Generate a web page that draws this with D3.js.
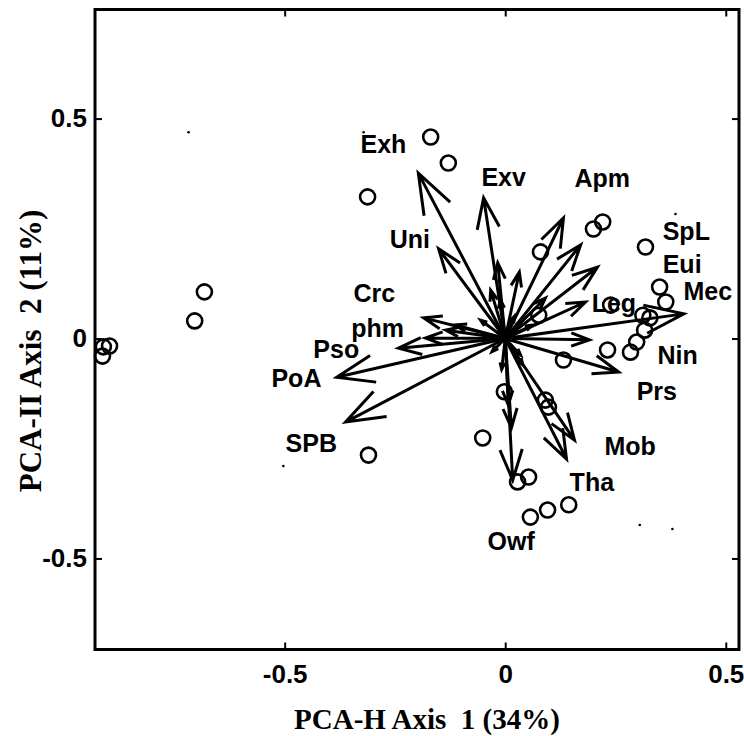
<!DOCTYPE html>
<html>
<head>
<meta charset="utf-8">
<script src="https://cdn.jsdelivr.net/npm/d3@7"></script>
<style>
  html, body { margin: 0; padding: 0; background: #fff; }
  svg { display: block; }
  .tick text { font-family: "Liberation Sans", Arial, sans-serif; font-weight: bold; font-size: 26px; fill: #000; }
  .tick line { stroke: #000; stroke-width: 2; }
  .var-label { font-family: "Liberation Sans", Arial, sans-serif; font-weight: bold; font-size: 25px; fill: #000; }
  .axis-title { font-family: "Liberation Serif", "Times New Roman", serif; font-weight: bold; fill: #000; white-space: pre; }
</style>
</head>
<body>
<svg id="chart" width="744" height="736"></svg>
<script>
// axis limits and ticks
const xLimits = [-0.93, 0.53];
const yLimits = [-0.707, 0.748];
const xTicks = [-0.5, 0, 0.5];
const yTicks = [-0.5, 0, 0.5];
const xTitle = 'PCA-H Axis  1 (34%)';
const yTitle = 'PCA-II Axis  2 (11%)';

// variable loadings (arrow tips, from the origin)
const arrowX = [-0.197, -0.151, -0.049, -0.017, -0.033, -0.011, 0.032, 0.132, 0.171, 0.209,
  0.091, 0.182, 0.405, 0.191, 0.257, 0.139, 0.157, 0.017, 0.014, 0.007,
  -0.185, -0.181, -0.242, -0.382, -0.362, -0.113, -0.056, -0.135, 0.035,
  0.020, -0.030, 0.040, 0.060, -0.008];
const arrowY = [0.376, 0.204, 0.320, 0.172, 0.110, 0.088, 0.151, 0.274, 0.213, 0.162,
  0.092, 0.083, 0.056, -0.003, -0.076, -0.274, -0.231, -0.322, -0.203, -0.151,
  0.047, 0.001, -0.022, -0.088, -0.190, 0.031, 0.042, 0.019, -0.038,
  0.050, -0.030, -0.060, 0.030, -0.070];

// variable names (placed at left/baseline)
const labelNames = ['Exh', 'Exv', 'Apm', 'Uni', 'SpL', 'Eui', 'Mec', 'Crc', 'phm', 'Leg',
  'Pso', 'PoA', 'Nin', 'Prs', 'SPB', 'Mob', 'Tha', 'Owf'];
const labelX = [-0.328, -0.054, 0.157, -0.262, 0.357, 0.357, 0.404, -0.344, -0.349, 0.196,
  -0.435, -0.530, 0.345, 0.298, -0.498, 0.225, 0.146, -0.040];
const labelY = [0.422, 0.347, 0.344, 0.206, 0.224, 0.149, 0.088, 0.083, 0.003, 0.060,
  -0.044, -0.110, -0.058, -0.140, -0.258, -0.265, -0.347, -0.481];

// site scores (open circles)
const siteX = [-0.169, -0.129, -0.312, -0.682, -0.704, -0.911, -0.897, -0.913, -0.310, -0.051,
  -0.002, 0.091, 0.098, 0.028, 0.053, 0.057, 0.096, 0.144, 0.132, 0.232,
  0.284, 0.298, 0.316, 0.328, 0.312, 0.364, 0.350, 0.318, 0.200, 0.221,
  0.080, 0.076, 0.239];
const siteY = [0.458, 0.399, 0.322, 0.106, 0.040, -0.019, -0.017, -0.040, -0.265, -0.226,
  -0.121, -0.140, -0.156, -0.326, -0.315, -0.406, -0.390, -0.378, -0.049, -0.026,
  -0.031, -0.008, 0.019, 0.047, 0.053, 0.083, 0.117, 0.208, 0.249, 0.265,
  0.197, 0.053, 0.076];

// stray point markers
const dotX = [-0.718, -0.321, 0.386, -0.503, 0.305, 0.379];
const dotY = [0.469, 0.469, 0.283, -0.290, -0.424, -0.433];

const margin = { top: 9.5, left: 95 };
const width = 644;
const height = 640;

const svg = d3.select('#chart');
const plot = svg.append('g').attr('transform', `translate(${margin.left},${margin.top})`);

const x = d3.scaleLinear().domain(xLimits).range([0, width]);
const y = d3.scaleLinear().domain(yLimits).range([height, 0]);

// plain hyphen for negatives, like the original
const fmt = (d) => (d === 0 ? '0' : String(d).replace(/^(-?)0\./, '$10.').replace('\u2212', '-'));

// axes with inward ticks on all four sides
const axisB = plot.append('g').attr('transform', `translate(0,${height})`)
  .call(d3.axisBottom(x).tickValues(xTicks).tickFormat(fmt).tickSize(-7).tickPadding(15));
const axisT = plot.append('g')
  .call(d3.axisTop(x).tickValues(xTicks).tickFormat('').tickSize(-7));
const axisL = plot.append('g')
  .call(d3.axisLeft(y).tickValues(yTicks).tickFormat(fmt).tickSize(-7).tickPadding(8));
const axisR = plot.append('g').attr('transform', `translate(${width},0)`)
  .call(d3.axisRight(y).tickValues(yTicks).tickFormat('').tickSize(-7));
[axisB, axisT, axisL, axisR].forEach((a) => a.select('.domain').remove());
axisB.selectAll('.tick text').attr('dy', '0.71em');

plot.append('rect')
  .attr('width', width)
  .attr('height', height)
  .attr('fill', 'none')
  .attr('stroke', '#000')
  .attr('stroke-width', 3);

// arrows
const arrows = arrowX.map((ax, i) => ({ x: ax, y: arrowY[i] }));
const HEAD_FRAC = 0.23;
const HEAD_ANGLE = 20 * Math.PI / 180;

function arrowPath(d) {
  const x0 = x(0), y0 = y(0);
  const x1 = x(d.x), y1 = y(d.y);
  const len = Math.hypot(x1 - x0, y1 - y0);
  const ang = Math.atan2(y0 - y1, x0 - x1);
  const h = Math.max(7, len * HEAD_FRAC);
  const bx1 = x1 + h * Math.cos(ang + HEAD_ANGLE);
  const by1 = y1 + h * Math.sin(ang + HEAD_ANGLE);
  const bx2 = x1 + h * Math.cos(ang - HEAD_ANGLE);
  const by2 = y1 + h * Math.sin(ang - HEAD_ANGLE);
  return `M${x0},${y0}L${x1},${y1}M${bx1},${by1}L${x1},${y1}L${bx2},${by2}`;
}

plot.append('g')
  .selectAll('path')
  .data(arrows)
  .join('path')
  .attr('d', arrowPath)
  .attr('fill', 'none')
  .attr('stroke', '#000')
  .attr('stroke-width', 3);

// sites
const sites = siteX.map((sx, i) => ({ x: sx, y: siteY[i] }));
plot.append('g')
  .selectAll('circle')
  .data(sites)
  .join('circle')
  .attr('cx', (d) => x(d.x))
  .attr('cy', (d) => y(d.y))
  .attr('r', 7.5)
  .attr('fill', 'none')
  .attr('stroke', '#000')
  .attr('stroke-width', 2.6);

const dots = dotX.map((dx, i) => ({ x: dx, y: dotY[i] }));
plot.append('g')
  .selectAll('circle')
  .data(dots)
  .join('circle')
  .attr('cx', (d) => x(d.x))
  .attr('cy', (d) => y(d.y))
  .attr('r', 1.3)
  .attr('fill', '#000');

// labels
const labels = labelNames.map((name, i) => ({ name, x: labelX[i], y: labelY[i] }));
plot.append('g')
  .selectAll('text')
  .data(labels)
  .join('text')
  .attr('class', 'var-label')
  .attr('x', (d) => x(d.x))
  .attr('y', (d) => y(d.y))
  .text((d) => d.name);

// axis titles
svg.append('text')
  .attr('class', 'axis-title')
  .attr('x', 427)
  .attr('y', 729)
  .attr('text-anchor', 'middle')
  .attr('font-size', 29)
  .text(xTitle);

svg.append('text')
  .attr('class', 'axis-title')
  .attr('transform', 'translate(41,351) rotate(-90)')
  .attr('text-anchor', 'middle')
  .attr('font-size', 31)
  .text(yTitle);
</script>
</body>
</html>
